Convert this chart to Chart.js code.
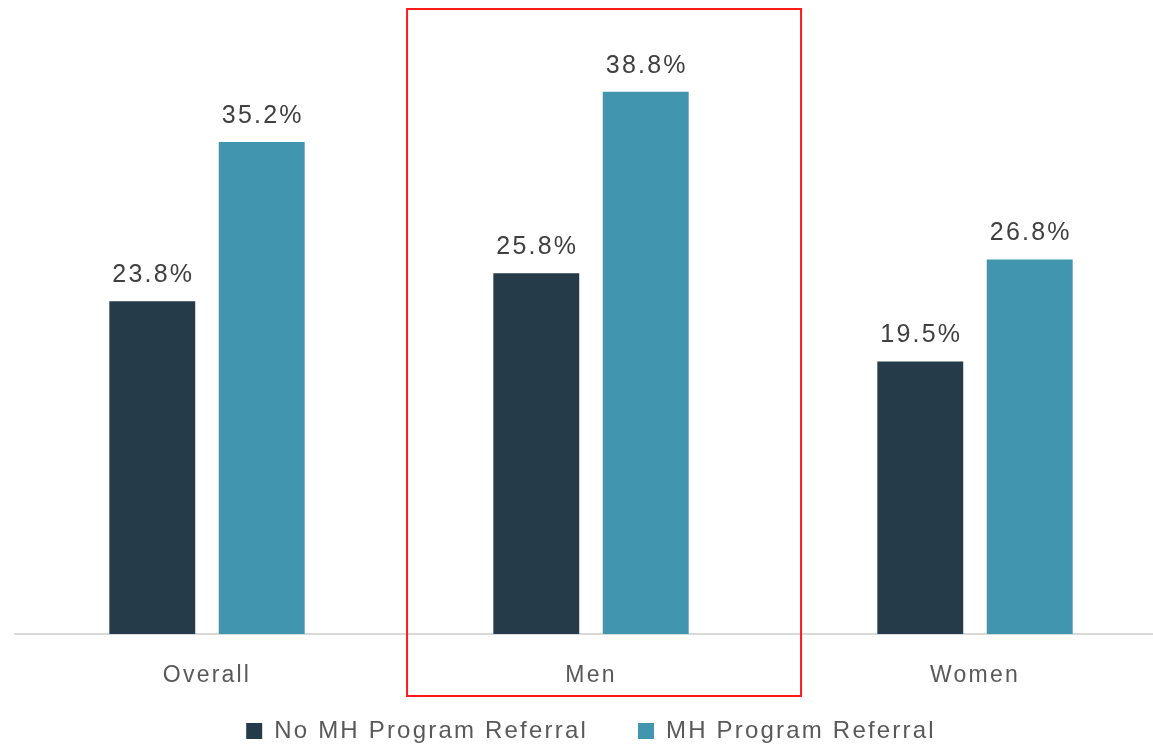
<!DOCTYPE html>
<html>
<head>
<meta charset="utf-8">
<script src="https://cdn.jsdelivr.net/npm/chart.js@4/dist/chart.umd.min.js"></script>
<style>
  html, body { margin: 0; padding: 0; background: #fff; overflow: hidden; }
  #wrap { width: 1167px; height: 746px; }
</style>
</head>
<body>
<div id="wrap"><canvas id="myChart" width="1167" height="746"></canvas></div>
<script>
const categories = ['Overall', 'Men', 'Women'];
const noReferral = [23.8, 25.8, 19.5];
const referral = [35.2, 38.8, 26.8];
const seriesNames = ['No MH Program Referral', 'MH Program Referral'];
const highlighted = 'Men';

const FONT = '"Liberation Sans", Arial, sans-serif';
const SPACING = '2.2px';

// the original text is set a bit loose, give all text some tracking
const tracking = {
  id: 'tracking',
  beforeLayout(chart) { chart.ctx.letterSpacing = SPACING; },
  afterLayout(chart) {
    // axis box is squeezed by the wide legend padding; let its labels hang below
    const x = chart.scales.x;
    x.bottom = x.top + 70;
    x.height = 70;
  },
  beforeDraw(chart) { chart.ctx.letterSpacing = SPACING; }
};

// percentage labels on top of every bar
const barLabels = {
  id: 'barLabels',
  afterDatasetsDraw(chart) {
    const ctx = chart.ctx;
    ctx.save();
    ctx.letterSpacing = SPACING;
    ctx.font = '25px ' + FONT;
    ctx.fillStyle = '#404040';
    ctx.textAlign = 'center';
    ctx.textBaseline = 'alphabetic';
    chart.data.datasets.forEach((ds, i) => {
      chart.getDatasetMeta(i).data.forEach((bar, j) => {
        ctx.fillText(ds.data[j].toFixed(1) + '%', bar.x + 1, bar.y - 19);
      });
    });
    ctx.restore();
  }
};

// red frame around the highlighted category
const highlightBox = {
  id: 'highlightBox',
  afterDraw(chart) {
    const xs = chart.scales.x;
    const step = xs.width / categories.length;
    const c = xs.getPixelForValue(categories.indexOf(highlighted));
    const ctx = chart.ctx;
    ctx.save();
    ctx.strokeStyle = '#ff1a1a';
    ctx.lineWidth = 2;
    ctx.strokeRect(c - 0.479 * step, 9, 1.026 * step, chart.chartArea.bottom + 62 - 9);
    ctx.restore();
  }
};

const chart = new Chart(document.getElementById('myChart').getContext('2d'), {
  type: 'bar',
  data: {
    labels: categories,
    datasets: [{
      label: seriesNames[0],
      data: noReferral,
      backgroundColor: '#263b4a',
      categoryPercentage: 0.57,
      barPercentage: 0.785
    }, {
      label: seriesNames[1],
      data: referral,
      backgroundColor: '#4195af',
      categoryPercentage: 0.57,
      barPercentage: 0.785
    }]
  },
  options: {
    responsive: false,
    animation: false,
    layout: { padding: { left: 15, right: 0, top: 5, bottom: -7 } },
    scales: {
      x: {
        grid: { display: false },
        border: { display: true, color: '#d9d9d9', width: 2 },
        ticks: { color: '#595959', font: { family: FONT, size: 23 }, padding: 20 },
        afterFit(scale) { scale.height = 35; }
      },
      y: {
        display: false,
        min: 0,
        max: 45
      }
    },
    plugins: {
      legend: {
        position: 'bottom',
        labels: {
          color: '#595959',
          font: { family: FONT, size: 24 },
          boxWidth: 16,
          boxHeight: 16,
          padding: 50
        }
      },
      tooltip: { enabled: false }
    }
  },
  plugins: [tracking, barLabels, highlightBox]
});
</script>
</body>
</html>
